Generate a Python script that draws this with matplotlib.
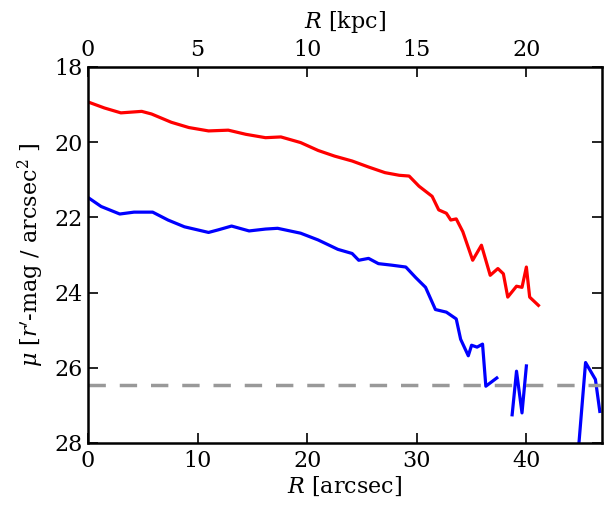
import numpy as np
import matplotlib
matplotlib.use("Agg")
import matplotlib.pyplot as plt

plt.rcParams['font.family'] = ['DejaVu Serif']
plt.rcParams['mathtext.fontset'] = 'dejavuserif'

red_r = [0.1, 1.5, 3.0, 4.9, 5.8, 7.6, 9.2, 11.0, 12.8, 14.4, 16.2, 17.6, 19.4, 21.0,
         22.5, 24.1, 25.6, 27.1, 28.4, 29.3, 30.2, 31.4, 32.0, 32.7, 33.1, 33.6, 34.2,
         35.1, 35.9, 36.7, 37.4, 37.9, 38.3, 39.1, 39.6, 40.0, 40.3, 41.1]
red_mu = [18.94, 19.09, 19.22, 19.18, 19.25, 19.47, 19.61, 19.70, 19.68, 19.79, 19.88,
          19.86, 20.01, 20.22, 20.37, 20.50, 20.66, 20.81, 20.88, 20.90, 21.17, 21.44,
          21.80, 21.89, 22.07, 22.04, 22.38, 23.14, 22.74, 23.54, 23.36, 23.50, 24.12,
          23.83, 23.86, 23.32, 24.12, 24.34]

blue_r = [0.1, 1.2, 2.9, 4.2, 5.9, 7.3, 8.8, 11.0, 11.9, 13.1, 14.7, 16.2, 17.3, 19.4,
          21.0, 22.8, 24.1, 24.7, 25.6, 26.5, 27.7, 29.0, 29.9, 30.8, 31.7, 32.7, 33.6,
          34.0, 34.7, 35.0, 35.5, 36.0, 36.3, 37.3, 38.0, 38.7, 39.1, 39.6, 40.0, 42.0,
          44.6, 45.4, 46.3, 46.7]
blue_mu = [21.49, 21.71, 21.91, 21.86, 21.86, 22.07, 22.25, 22.40, 22.33, 22.23, 22.36,
           22.31, 22.29, 22.42, 22.60, 22.85, 22.96, 23.14, 23.09, 23.23, 23.27, 23.32,
           23.60, 23.86, 24.45, 24.52, 24.70, 25.24, 25.68, 25.40, 25.45, 25.37, 26.49,
           26.27, np.nan, 27.25, 26.09, 27.20, 25.95, np.nan, 28.7, 25.86, 26.31, 27.16]

limit_mu = 26.45
kpc_per_arcsec = 0.5

fig = plt.figure(figsize=(6.05, 5.08), dpi=100)
ax = fig.add_axes([88/605, 1-443/508, (602-88)/605, (443-67)/508])

ax.plot(red_r, red_mu, color='#ff0000', lw=2.3)
ax.plot(blue_r, blue_mu, color='#0000ff', lw=2.3)
ax.axhline(limit_mu, color='#999999', lw=2.5, dashes=(5, 4))

ax.set_xlim(0, 46.9)
ax.set_ylim(28, 18)
ax.set_xticks([0, 10, 20, 30, 40])
ax.set_yticks([18, 20, 22, 24, 26, 28])
ax.tick_params(direction='in', length=7, width=1.2, labelsize=16, top=False, right=True)
ax.tick_params(axis='x', pad=5)
for s in ax.spines.values():
    s.set_linewidth(1.8)
ax.set_xlabel(r'$R$ [arcsec]', fontsize=16, labelpad=2)
ax.set_ylabel(r"$\mu$ [$r'$-mag / arcsec$^2$ ]", fontsize=16, labelpad=6)

sec = ax.secondary_xaxis('top', functions=(lambda x: x*kpc_per_arcsec, lambda k: k/kpc_per_arcsec))
sec.set_xticks([0, 5, 10, 15, 20])
sec.tick_params(direction='in', length=7, width=1.2, labelsize=16, pad=4)
sec.set_xlabel(r'$R$ [kpc]', fontsize=16, labelpad=8)

fig.savefig('out.png', dpi=100)
